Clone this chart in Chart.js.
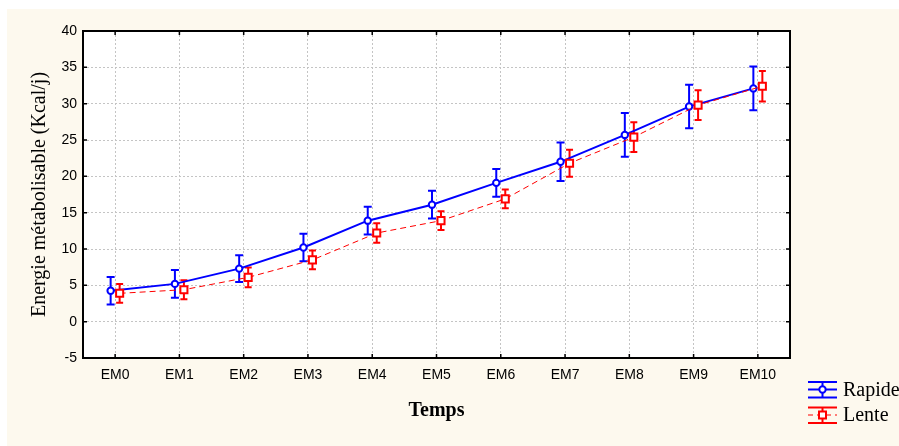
<!DOCTYPE html>
<html>
<head>
<meta charset="utf-8">
<script src="https://cdn.jsdelivr.net/npm/chart.js@4.4.0/dist/chart.umd.min.js"></script>
<style>
  html, body { margin: 0; padding: 0; background: #fff; }
</style>
</head>
<body>
<canvas id="mycanvas" width="899" height="446"></canvas>
<script>
// donnees
var temps = ["EM0", "EM1", "EM2", "EM3", "EM4", "EM5", "EM6", "EM7", "EM8", "EM9", "EM10"];
var rapide = [4.25, 5.2, 7.3, 10.2, 13.9, 16.1, 19.1, 22.0, 25.7, 29.6, 32.1];
var rapideErr = [1.9, 1.9, 1.85, 1.9, 1.9, 1.9, 1.9, 2.65, 3.0, 3.0, 3.0];
var lente = [3.9, 4.4, 6.1, 8.5, 12.2, 13.9, 16.9, 21.8, 25.4, 29.8, 32.4];
var lenteErr = [1.3, 1.3, 1.35, 1.3, 1.35, 1.3, 1.3, 1.85, 2.05, 2.05, 2.1];
var yTicks = [-5, 0, 5, 10, 15, 20, 25, 30, 35, 40];

var decal = 0.07; // petit decalage horizontal entre les deux series

function points(vals, dx) {
  var out = [];
  for (var i = 0; i < vals.length; i++) {
    out.push({ x: i + dx, y: vals[i] });
  }
  return out;
}

var errs = [rapideErr, lenteErr];
var moys = [rapide, lente];

// fond creme
var fond = {
  id: "fond",
  beforeDraw: function (chart) {
    var ctx = chart.ctx;
    ctx.save();
    ctx.fillStyle = "#ffffff";
    ctx.fillRect(0, 0, chart.width, chart.height);
    ctx.fillStyle = "#fdf9ee";
    ctx.fillRect(7, 9, chart.width - 7, chart.height - 9);
    ctx.fillStyle = "#ffffff";
    var a = chart.chartArea;
    ctx.fillRect(a.left, a.top, a.right - a.left, a.bottom - a.top);
    ctx.restore();
  }
};

// barres d'erreur
var barres = {
  id: "barres",
  beforeDatasetsDraw: function (chart) {
    var ctx = chart.ctx;
    var y = chart.scales.y;
    ctx.save();
    ctx.lineWidth = 2;
    for (var d = 0; d < 2; d++) {
      var meta = chart.getDatasetMeta(d);
      ctx.strokeStyle = chart.data.datasets[d].borderColor;
      var cap = d == 0 ? 4 : 3.5;
      for (var i = 0; i < meta.data.length; i++) {
        var px = meta.data[i].x;
        var hi = y.getPixelForValue(moys[d][i] + errs[d][i]);
        var lo = y.getPixelForValue(moys[d][i] - errs[d][i]);
        ctx.beginPath();
        ctx.moveTo(px, hi); ctx.lineTo(px, lo);
        ctx.moveTo(px - cap, hi); ctx.lineTo(px + cap, hi);
        ctx.moveTo(px - cap, lo); ctx.lineTo(px + cap, lo);
        ctx.stroke();
      }
    }
    ctx.restore();
  }
};

// cadre, graduations internes et legende
var cadre = {
  id: "cadre",
  afterDraw: function (chart) {
    var ctx = chart.ctx;
    var a = chart.chartArea;
    var sx = chart.scales.x, sy = chart.scales.y;
    ctx.save();
    ctx.strokeStyle = "#000";
    ctx.lineWidth = 2;
    ctx.strokeRect(a.left, a.top, a.right - a.left, a.bottom - a.top);
    ctx.lineWidth = 1.5;
    ctx.beginPath();
    for (var i = 0; i < temps.length; i++) {
      var px = sx.getPixelForValue(i);
      ctx.moveTo(px, a.top); ctx.lineTo(px, a.top + 4);
      ctx.moveTo(px, a.bottom); ctx.lineTo(px, a.bottom - 4);
    }
    for (var j = 0; j < yTicks.length; j++) {
      var py = sy.getPixelForValue(yTicks[j]);
      ctx.moveTo(a.left, py); ctx.lineTo(a.left + 4, py);
      ctx.moveTo(a.right, py); ctx.lineTo(a.right - 4, py);
    }
    ctx.stroke();

    // legende
    var lx = 808, lw = 29;
    var ly = [389.5, 415];
    ctx.font = "20px 'Liberation Serif'";
    ctx.textBaseline = "middle";
    for (var d = 0; d < 2; d++) {
      var ds = chart.data.datasets[d];
      var cy = ly[d];
      var cx = lx + lw / 2;
      ctx.strokeStyle = ds.borderColor;
      ctx.lineWidth = 2;
      ctx.beginPath();
      ctx.moveTo(lx, cy - 7.5); ctx.lineTo(lx + lw, cy - 7.5);
      ctx.moveTo(lx, cy + 8); ctx.lineTo(lx + lw, cy + 8);
      ctx.moveTo(cx, cy - 7.5); ctx.lineTo(cx, cy + 8);
      ctx.stroke();
      ctx.lineWidth = ds.borderWidth;
      ctx.setLineDash(d == 0 ? [] : [5, 4]);
      ctx.beginPath();
      ctx.moveTo(lx, cy); ctx.lineTo(lx + lw, cy);
      ctx.stroke();
      ctx.setLineDash([]);
      ctx.fillStyle = "#fff";
      ctx.lineWidth = 2;
      ctx.beginPath();
      if (d == 0) ctx.arc(cx, cy, 3.2, 0, Math.PI * 2);
      else ctx.rect(cx - 3.5, cy - 3.5, 7, 7);
      ctx.fill();
      ctx.stroke();
      ctx.fillStyle = "#000";
      ctx.fillText(ds.label, lx + lw + 6, cy + 1);
    }
    ctx.restore();
  }
};

var ctx = document.getElementById("mycanvas");

var graph = new Chart(ctx, {
  type: "line",
  data: {
    datasets: [
      {
        label: "Rapide",
        data: points(rapide, -decal),
        borderColor: "#0000ff",
        backgroundColor: "#ffffff",
        borderWidth: 2,
        pointStyle: "circle",
        pointRadius: 3.2,
        pointBorderWidth: 2,
        order: 1
      },
      {
        label: "Lente",
        data: points(lente, decal),
        borderColor: "#ff0000",
        backgroundColor: "#ffffff",
        borderWidth: 1,
        borderDash: [6, 4],
        pointStyle: "rect",
        pointRadius: 5,
        pointBorderWidth: 2,
        order: 0
      }
    ]
  },
  options: {
    responsive: false,
    animation: false,
    layout: { padding: { top: 31, right: 109, left: 0, bottom: 0 } },
    plugins: {
      legend: { display: false },
      tooltip: { enabled: false }
    },
    scales: {
      x: {
        type: "linear",
        min: -0.5,
        max: 10.5,
        afterBuildTicks: function (s) {
          s.ticks = temps.map(function (t, i) { return { value: i }; });
        },
        afterFit: function (s) { s.height = 88; },
        ticks: {
          padding: 9,
          color: "#000",
          font: { family: "'Liberation Sans'", size: 14 },
          callback: function (v) { return temps[v]; }
        },
        grid: { color: "#c4c4c4", lineWidth: 1, drawTicks: false },
        border: { display: false, dash: [2, 2] },
        title: {
          display: true,
          text: "Temps",
          color: "#000",
          font: { family: "'Liberation Serif'", size: 20, weight: "bold" },
          padding: { top: 0, bottom: 23 }
        }
      },
      y: {
        min: -5,
        max: 40,
        afterBuildTicks: function (s) {
          s.ticks = yTicks.map(function (v) { return { value: v }; });
        },
        afterFit: function (s) { s.width = 83; },
        ticks: {
          padding: 6,
          color: "#000",
          font: { family: "'Liberation Sans'", size: 14 }
        },
        grid: { color: "#c4c4c4", lineWidth: 1, drawTicks: false },
        border: { display: false, dash: [2, 2] },
        title: {
          display: true,
          text: "Energie métabolisable (Kcal/j)",
          color: "#000",
          font: { family: "'Liberation Serif'", size: 20 },
          padding: { top: 28, bottom: 0 }
        }
      }
    }
  },
  plugins: [fond, barres, cadre]
});
</script>
</body>
</html>
